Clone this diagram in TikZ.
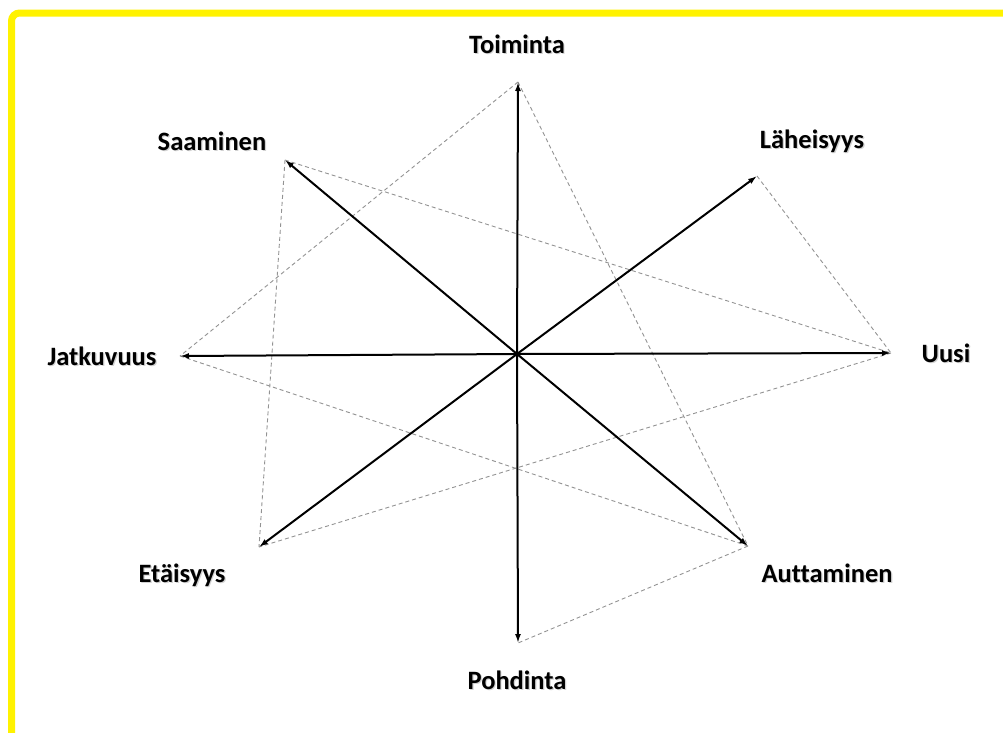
\documentclass[tikz,border=0pt]{standalone}
\usepackage{fontspec}
\setmainfont{Carlito}[Ligatures=NoCommon]
\usetikzlibrary{arrows.meta}
\newcommand\glowtext[1]{\makebox[0pt][l]{\hspace{1.2pt}\raisebox{-1.6pt}{\textcolor{gray!35}{#1}}}#1}
\begin{document}
\begin{tikzpicture}[x=1pt,y=-1pt]
  \clip (0,0) rectangle (1003,732);
  \fill[white] (0,0) rectangle (1003,732);
  \draw[yellow, line width=7pt, rounded corners=8pt] (11.5,13) rectangle (1030,760);
  % arrow tips
  \coordinate (o) at (517,354);
  \coordinate (toim) at (518,82);
  \coordinate (pohd) at (518,643);
  \coordinate (jatk) at (180,356);
  \coordinate (uusi) at (891,353);
  \coordinate (saam) at (285,160);
  \coordinate (lahe) at (757,176);
  \coordinate (etai) at (259,547);
  \coordinate (autt) at (748,546);
  % labels
  \begin{scope}[every node/.style={anchor=base,inner sep=0pt,font=\bfseries\fontsize{26.5}{30}\selectfont}]
  \node (ltoim) at (517,53) {\glowtext{Toiminta}};
  \node (lsaam) at (212,150) {\glowtext{Saaminen}};
  \node (llahe) at (812,148) {\glowtext{Läheisyys}};
  \node (ljatk) at (102,365) {\glowtext{Jatkuvuus}};
  \node (luusi) at (946,362) {\glowtext{Uusi}};
  \node (letai) at (182,582) {\glowtext{Etäisyys}};
  \node (lautt) at (827,582) {\glowtext{Auttaminen}};
  \node (lpohd) at (517,689) {\glowtext{Pohdinta}};
  \end{scope}
  \begin{scope}[every edge/.style={draw=gray!85,line width=0.9pt,dash pattern=on 4pt off 3pt}]
  \path (toim) edge (jatk);
  \path (toim) edge (autt);
  \path (saam) edge (uusi);
  \path (saam) edge (etai);
  \path (lahe) edge (uusi);
  \path (uusi) edge (etai);
  \path (jatk) edge (autt);
  \path (autt) edge (pohd);
  \end{scope}
  \begin{scope}[every edge/.style={draw=black,line width=2pt,-{Latex[length=9pt,width=6pt]}}]
  \path (o) edge (toim);
  \path (o) edge (pohd);
  \path (o) edge (jatk);
  \path (o) edge (uusi);
  \path (o) edge (saam);
  \path (o) edge (lahe);
  \path (o) edge (etai);
  \path (o) edge (autt);
  \end{scope}
\end{tikzpicture}
\end{document}
